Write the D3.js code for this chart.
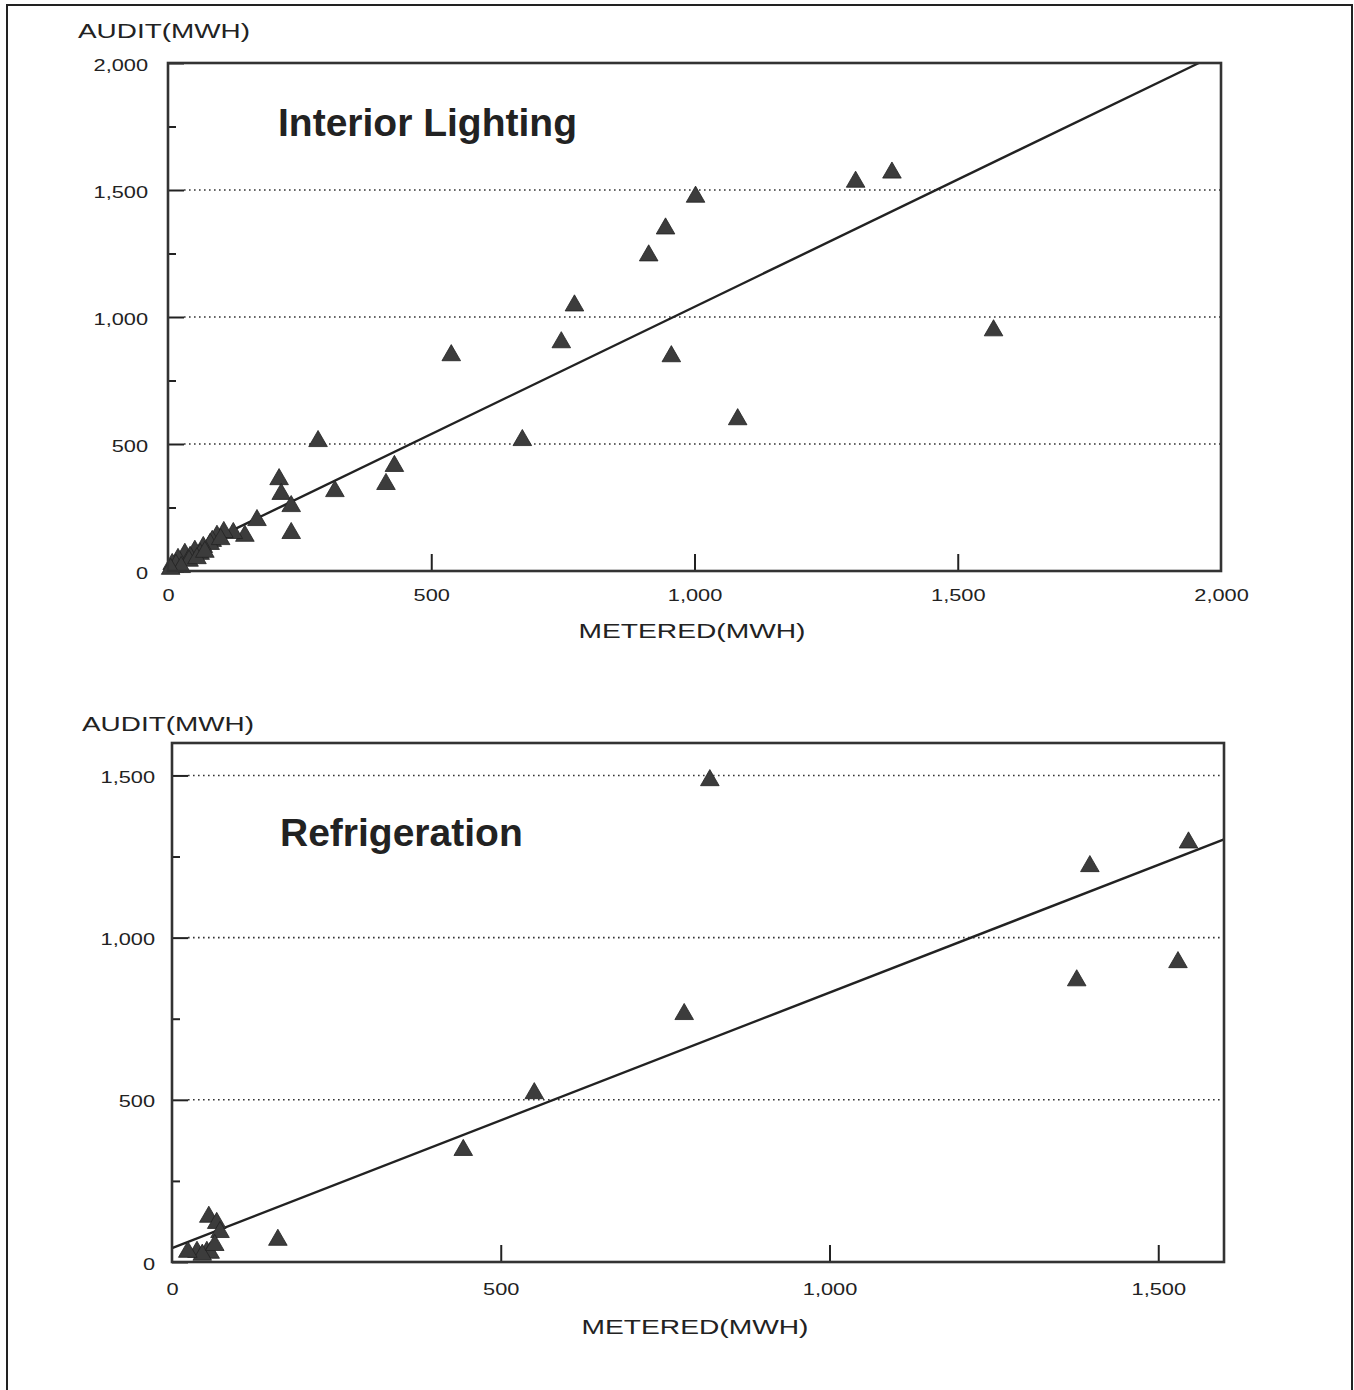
<!DOCTYPE html>
<html>
<head>
<meta charset="utf-8">
<script src="https://cdn.jsdelivr.net/npm/d3@7"></script>
<style>
  html, body { margin: 0; padding: 0; background: #fff; }
  svg { display: block; }
  text { font-family: "Liberation Sans", Arial, Helvetica, sans-serif; fill: #222; }
</style>
</head>
<body>
<svg id="chart" width="1354" height="1390"></svg>
<script>
// ---------------- DATA ----------------
// Interior Lighting: [metered MWh, audit MWh]
const lightingPoints = [
  [1375,1568],[1306,1532],[1002,1473],[945,1348],[913,1242],[772,1045],[747,900],
  [538,849],[956,845],[1568,947],[1082,597],[673,515],[285,511],[430,413],[414,342],
  [317,314],[211,361],[215,303],[234,255],[234,149],[169,200],[146,138],[124,149],
  [106,153],[93,138],[84,118],[80,106],[67,94],[51,79],[32,67],[19,47],[8,27],
  [15,24],[42,55],[61,67],[40,40],[25,15],[55,50],[70,75],[100,125],[5,8]
];
const lightingFit = [[0, 38], [1958, 2000]];
const lightingXTicks = [0, 500, 1000, 1500, 2000];
const lightingYTicks = [0, 500, 1000, 1500, 2000];
const lightingYMinor = [250, 750, 1250, 1750];

// Refrigeration
const refrigPoints = [
  [818,1485],[1546,1293],[1396,1220],[1530,924],[1376,868],[779,764],[551,520],
  [443,345],[161,68],[56,139],[68,120],[73,92],[38,31],[53,31],[58,28],[46,22],
  [24,31],[65,52]
];
const refrigFit = [[0, 43], [1600, 1303]];
const refrigXTicks = [0, 500, 1000, 1500];
const refrigYTicks = [0, 500, 1000, 1500];
const refrigYMinor = [250, 750, 1250];

const yTitle = "AUDIT(MWH)";
const xTitle = "METERED(MWH)";

// ---------------- DRAW ----------------
const svg = d3.select("#chart");
const fmt = d3.format(",");

// outer frame
svg.append("rect").attr("x", 7).attr("y", 5).attr("width", 1345).attr("height", 1400)
  .attr("fill", "none").attr("stroke", "#222").attr("stroke-width", 2);

function stretch(sel, k) {
  sel.each(function () {
    const w = this.getComputedTextLength();
    d3.select(this).attr("textLength", w * k).attr("lengthAdjust", "spacingAndGlyphs");
  });
}

function panel(cfg) {
  const x = d3.scaleLinear().domain(cfg.xDomain).range([cfg.left, cfg.right]);
  const y = d3.scaleLinear().domain(cfg.yDomain).range([cfg.bottom, cfg.top]);
  const g = svg.append("g");

  // gridlines (dotted)
  g.append("g").selectAll("line")
    .data(cfg.yTicks.filter(v => v > cfg.yDomain[0] && v < cfg.yDomain[1]))
    .join("line")
    .attr("x1", cfg.left + 16).attr("x2", cfg.right)
    .attr("y1", d => y(d)).attr("y2", d => y(d))
    .attr("stroke", "#333").attr("stroke-width", 1.6)
    .attr("stroke-dasharray", "1.6,3.4");

  // y axis (major ticks inward)
  const ya = g.append("g").attr("transform", `translate(${cfg.left},0)`)
    .call(d3.axisLeft(y).tickValues(cfg.yTicks).tickSize(-16).tickPadding(cfg.yPad).tickFormat(fmt));
  ya.select(".domain").remove();
  ya.selectAll(".tick line").attr("stroke", "#222").attr("stroke-width", 2);
  ya.selectAll(".tick text").attr("font-size", 17).attr("dy", "0.42em").attr("fill", "#222");
  stretch(ya.selectAll(".tick text"), 1.28);

  // y minor ticks
  const ym = g.append("g").attr("transform", `translate(${cfg.left},0)`)
    .call(d3.axisLeft(y).tickValues(cfg.yMinor).tickSize(-8).tickFormat(""));
  ym.select(".domain").remove();
  ym.selectAll(".tick line").attr("stroke", "#222").attr("stroke-width", 2);

  // x axis
  const xa = g.append("g").attr("transform", `translate(0,${cfg.bottom})`)
    .call(d3.axisBottom(x).tickValues(cfg.xTicks).tickSize(-17).tickPadding(cfg.xPad).tickFormat(fmt));
  xa.select(".domain").remove();
  xa.selectAll(".tick line").attr("stroke", "#222").attr("stroke-width", 2)
    .filter(d => d === cfg.xDomain[0] || d === cfg.xDomain[1]).remove();
  xa.selectAll(".tick text").attr("font-size", 17).attr("fill", "#222");
  stretch(xa.selectAll(".tick text"), 1.28);

  // regression line
  g.append("path").datum(cfg.fit)
    .attr("d", d3.line().x(d => x(d[0])).y(d => y(d[1])))
    .attr("fill", "none").attr("stroke", "#222").attr("stroke-width", 2.4);

  // points (triangles)
  g.append("g").selectAll("path").data(cfg.points).join("path")
    .attr("transform", d => `translate(${x(d[0])},${y(d[1])})`)
    .attr("d", d3.symbol(d3.symbolTriangle, 150))
    .attr("fill", "#3c3c3c").attr("stroke", "#222").attr("stroke-width", 0.8);

  // frame
  g.append("rect").attr("x", cfg.left).attr("y", cfg.top)
    .attr("width", cfg.right - cfg.left).attr("height", cfg.bottom - cfg.top)
    .attr("fill", "none").attr("stroke", "#333").attr("stroke-width", 2.6);

  // titles
  g.append("text").attr("x", cfg.titleX).attr("y", cfg.titleY)
    .attr("font-size", 39).attr("font-weight", "bold").attr("fill", "#3a3a3a")
    .text(cfg.title);

  g.append("text").attr("x", cfg.yTitleX).attr("y", cfg.yTitleY)
    .attr("font-size", 20).attr("textLength", 172).attr("lengthAdjust", "spacingAndGlyphs")
    .text(yTitle);

  g.append("text").attr("x", cfg.xTitleX).attr("y", cfg.xTitleY)
    .attr("font-size", 20).attr("text-anchor", "middle")
    .attr("textLength", 227).attr("lengthAdjust", "spacingAndGlyphs")
    .text(xTitle);
}

panel({
  left: 168, right: 1221, top: 63, bottom: 571,
  xDomain: [0, 2000], yDomain: [0, 2000],
  xTicks: lightingXTicks, yTicks: lightingYTicks, yMinor: lightingYMinor,
  yPad: 20, xPad: 18,
  points: lightingPoints, fit: lightingFit,
  title: "Interior Lighting", titleX: 278, titleY: 136,
  yTitleX: 78, yTitleY: 38, xTitleX: 692, xTitleY: 638
});

panel({
  left: 172, right: 1224, top: 743, bottom: 1262,
  xDomain: [0, 1600], yDomain: [0, 1600],
  xTicks: refrigXTicks, yTicks: refrigYTicks, yMinor: refrigYMinor,
  yPad: 17, xPad: 21,
  points: refrigPoints, fit: refrigFit,
  title: "Refrigeration", titleX: 280, titleY: 846,
  yTitleX: 82, yTitleY: 731, xTitleX: 695, xTitleY: 1334
});
</script>
</body>
</html>
